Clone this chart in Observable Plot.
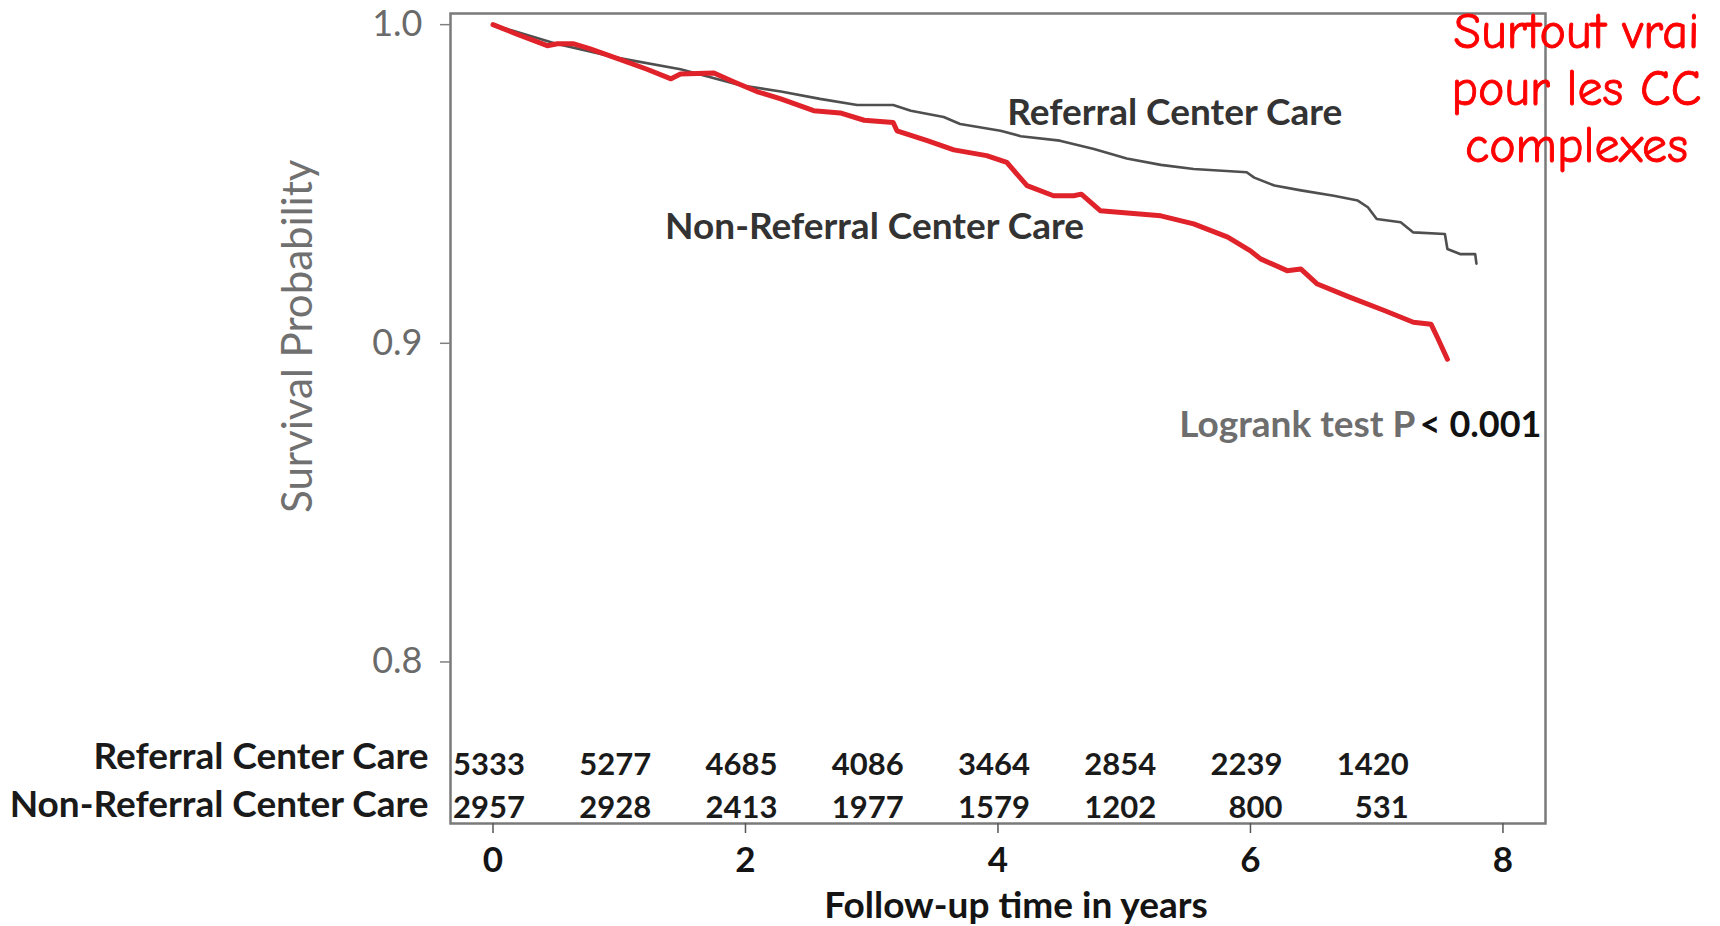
<!DOCTYPE html>
<html>
<head>
<meta charset="utf-8">
<script src="https://cdn.jsdelivr.net/npm/d3@7"></script>
<script src="https://cdn.jsdelivr.net/npm/@observablehq/plot@0.6"></script>
<style>
  html, body { margin: 0; padding: 0; background: #fff; }
  #chart svg { display: block; overflow: visible; }
</style>
</head>
<body>
<div id="chart"></div>
<script>
// ---- Data ----
const groups = ["Referral Center Care", "Non-Referral Center Care"];

// Referral Center Care (grey Kaplan-Meier curve)
const refTime = [0, 0.165, 0.5, 1.0, 1.485, 1.96, 2.28, 2.59, 2.885, 3.17, 3.31, 3.57, 3.70, 4.02, 4.18, 4.49, 4.76, 5.02, 5.29, 5.55, 5.97, 6.03, 6.19, 6.40, 6.66, 6.85, 6.93, 7.0, 7.19, 7.29, 7.54, 7.56, 7.66, 7.78, 7.79];
const refSurv = [1.0, 0.998, 0.994, 0.9895, 0.986, 0.981, 0.979, 0.9767, 0.9748, 0.9748, 0.973, 0.971, 0.9688, 0.9667, 0.965, 0.9636, 0.961, 0.958, 0.956, 0.9547, 0.9537, 0.952, 0.9495, 0.948, 0.9463, 0.9448, 0.9427, 0.939, 0.938, 0.9348, 0.9343, 0.9296, 0.928, 0.928, 0.925];

// Non-Referral Center Care (red Kaplan-Meier curve)
const nonTime = [0, 0.19, 0.43, 0.51, 0.64, 0.77, 1.01, 1.22, 1.41, 1.485, 1.75, 1.91, 2.09, 2.28, 2.54, 2.75, 2.94, 3.17, 3.2, 3.44, 3.65, 3.91, 4.07, 4.15, 4.23, 4.44, 4.6, 4.66, 4.81, 5.29, 5.55, 5.82, 6.0, 6.08, 6.29, 6.40, 6.53, 6.79, 7.06, 7.29, 7.43, 7.48, 7.56];
const nonSurv = [1.0, 0.997, 0.9934, 0.994, 0.994, 0.9924, 0.989, 0.986, 0.983, 0.9845, 0.9848, 0.982, 0.979, 0.9767, 0.973, 0.9723, 0.970, 0.9693, 0.9667, 0.9636, 0.9607, 0.9589, 0.9568, 0.9531, 0.9495, 0.9463, 0.9463, 0.9468, 0.9416, 0.940, 0.9375, 0.9333, 0.929, 0.9265, 0.9228, 0.9233, 0.9186, 0.9144, 0.9103, 0.9066, 0.906, 0.9019, 0.895];

// Numbers at risk
const riskTimes = [0, 1, 2, 3, 4, 5, 6, 7];
const riskReferral = [5333, 5277, 4685, 4086, 3464, 2854, 2239, 1420];
const riskNonReferral = [2957, 2928, 2413, 1977, 1579, 1202, 800, 531];

// Axis ticks
const yTicks = [0.8, 0.9, 1.0];
const xTicks = [0, 2, 4, 6, 8];

// Texts
const yLabel = "Survival Probability";
const xLabel = "Follow-up time in years";
const logrankLabel = "Logrank test P";
const logrankValue = "< 0.001";
const note = "Surtout vrai\npour les CC\ncomplexes";

// Annotation anchors (data coordinates)
const refLabelPos = {x: 5.40, y: 0.9721};
const nonLabelPos = {x: 3.022, y: 0.9363};
const yLabelPos = {x: -1.537, y: 0.9022};

// ---- Tables built from the arrays ----
const refData = refTime.map((t, i) => ({t, s: refSurv[i]}));
const nonData = nonTime.map((t, i) => ({t, s: nonSurv[i]}));
const riskRows = riskTimes.map((t, i) => ({t, ref: String(riskReferral[i]), non: String(riskNonReferral[i])}));

const FONT = "Lato, 'Open Sans', sans-serif";
const LBL = 37;

const chart = Plot.plot({
  width: 1720,
  height: 926,
  marginLeft: 450,
  marginRight: 175,
  marginTop: 13,
  marginBottom: 103,
  style: {fontFamily: FONT, background: "#fff", overflow: "visible"},
  x: {domain: [-0.3366, 8.337]},
  y: {domain: [0.7493, 1.0035]},
  marks: [
    Plot.frame({stroke: "#7a7a7a", strokeWidth: 2.5}),
    Plot.axisY(yTicks, {
      tickSize: 10, tickPadding: 18, tickFormat: d3.format(".1f"),
      fontSize: 36, fill: "#6a6a6a", stroke: "#808080", strokeWidth: 1.5, label: null
    }),
    Plot.axisX(xTicks, {
      tickSize: 10, tickPadding: 14, tickFormat: d3.format("d"),
      fontSize: 35, fontWeight: "bold", fill: "#141414", stroke: "#555", strokeWidth: 1.5, label: null
    }),
    // curves
    Plot.line(refData, {x: "t", y: "s", stroke: "#4f4f4f", strokeWidth: 2.6}),
    Plot.line(nonData, {x: "t", y: "s", stroke: "#e0222a", strokeWidth: 5}),
    // curve labels
    Plot.text([groups[0]], {x: [refLabelPos.x], y: [refLabelPos.y], text: d => d, fontSize: LBL, fontWeight: "bold", fill: "#333", clip: false}),
    Plot.text([groups[1]], {x: [nonLabelPos.x], y: [nonLabelPos.y], text: d => d, fontSize: LBL, fontWeight: "bold", fill: "#333", clip: false}),
    // log-rank
    Plot.text([logrankLabel], {frameAnchor: "right", text: d => d, textAnchor: "end", dx: -130, dy: 7, fontSize: LBL, fontWeight: "bold", fill: "#6e6e6e"}),
    Plot.text([logrankValue], {frameAnchor: "right", text: d => d, textAnchor: "end", dx: -4, dy: 7, fontSize: 36, fontWeight: "bold", fill: "#111"}),
    // numbers at risk
    Plot.text(riskRows, {x: "t", text: "ref", frameAnchor: "bottom", textAnchor: "end", dx: 32, dy: -49, fontSize: 31, fontWeight: "bold", fill: "#1a1a1a"}),
    Plot.text(riskRows, {x: "t", text: "non", frameAnchor: "bottom", textAnchor: "end", dx: 32, dy: -6, fontSize: 31, fontWeight: "bold", fill: "#1a1a1a"}),
    Plot.text([groups[0]], {frameAnchor: "bottom-left", text: d => d, textAnchor: "end", dx: -22, dy: -55, fontSize: LBL, fontWeight: "bold", fill: "#1a1a1a"}),
    Plot.text([groups[1]], {frameAnchor: "bottom-left", text: d => d, textAnchor: "end", dx: -22, dy: -7, fontSize: LBL, fontWeight: "bold", fill: "#1a1a1a"}),
    // axis titles
    Plot.text([yLabel], {x: [yLabelPos.x], y: [yLabelPos.y], text: d => d, rotate: -90, fontSize: 42, fill: "#707070", clip: false}),
    Plot.text([xLabel], {frameAnchor: "bottom", text: d => d, dx: 18, dy: 94, fontSize: LBL, fontWeight: "bold", fill: "#141414"}),
    // red note
    Plot.text([note], {frameAnchor: "top-right", text: d => d, textAnchor: "middle", lineAnchor: "top", lineHeight: 1.14, dx: 31, dy: -6, fontSize: 50, fill: "#ff0000", stroke: "#ff0000", strokeWidth: 0.9, fontFamily: "'Comic Sans MS', 'Comic Neue', cursive"})
  ]
});

document.getElementById("chart").appendChild(chart);
</script>
</body>
</html>
